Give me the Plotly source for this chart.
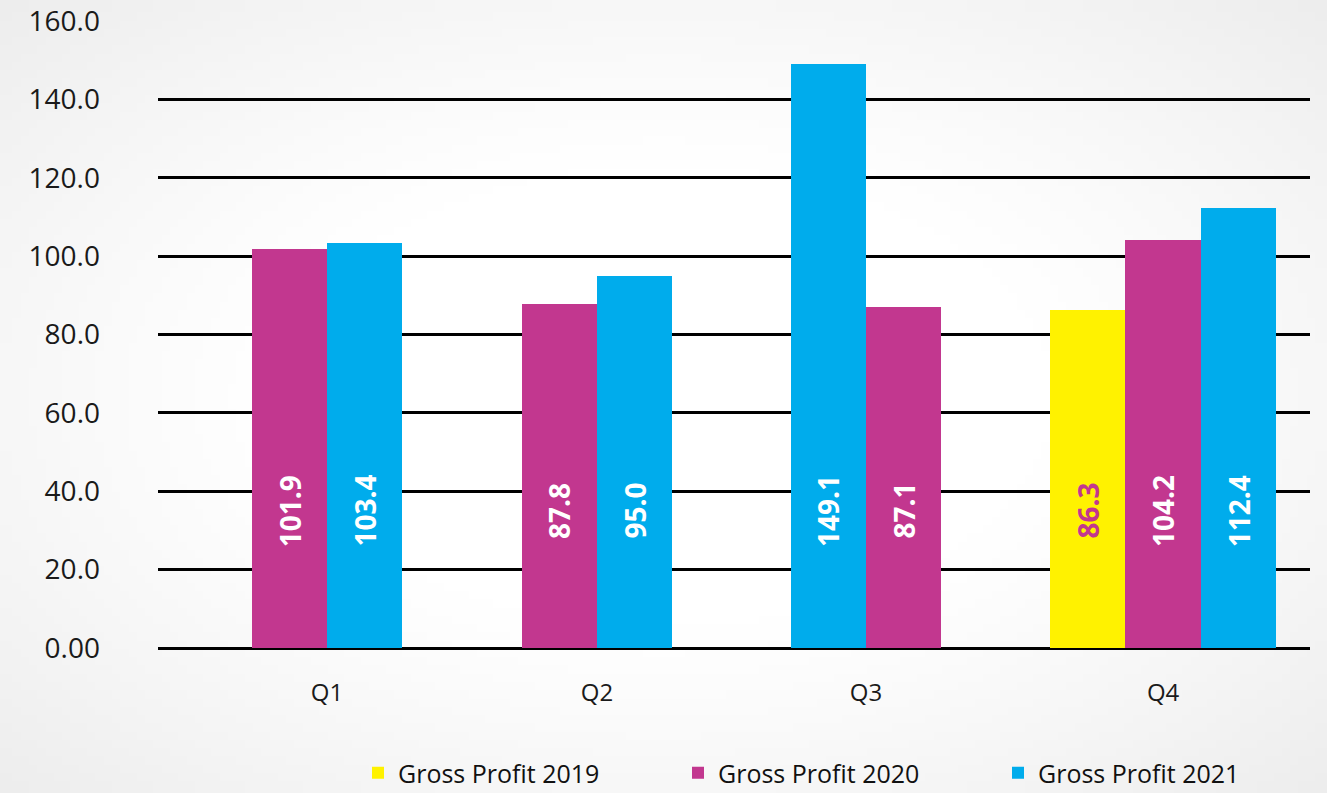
import base64
import struct
import zlib

import plotly.graph_objects as go

# ---------------- data ----------------
quarters = ["Q1", "Q2", "Q3", "Q4"]
series_names = ["Gross Profit 2019", "Gross Profit 2020", "Gross Profit 2021"]
gp_2019 = [None, None, None, 86.3]
gp_2020 = [101.9, 87.8, 87.1, 104.2]
gp_2021 = [103.4, 95.0, 149.1, 112.4]
y_tick_values = [0, 20, 40, 60, 80, 100, 120, 140, 160]
y_tick_labels = ["0.00", "20.0", "40.0", "60.0", "80.0", "100.0", "120.0", "140.0", "160.0"]

# ---------------- layout / style ----------------
series_values = [gp_2019, gp_2020, gp_2021]
colors = ["#FFF200", "#C2378F", "#00ACEC"]
label_colors = ["#C2378F", "white", "white"]
# order of series within each quarter (indexes into series_values)
bar_order = {"Q3": [2, 1]}
group_centers = [0.587, 1.524, 2.458, 3.490]   # axis units
bar_width = 0.2616
label_y = 35

W, H = 1327, 793
M_L, M_R, M_T, M_B = 158, 17, 21, 145
PW, PH = W - M_L - M_R, H - M_T - M_B

FONT = "Open Sans"


def gradient_png(w, h):
    rows = []
    for j in range(h):
        dy = (j + 0.5) / h * 2 - 1
        row = bytearray([0])
        for i in range(w):
            dx = (i + 0.5) / w * 2 - 1
            r = (dx * dx + dy * dy) ** 0.5
            t = max(0.0, min(1.0, (r - 0.55) / 0.85))
            v = int(round(255 - 18 * t ** 1.2))
            row.append(v)
        rows.append(bytes(row))
    raw = b"".join(rows)

    def chunk(tag, data):
        c = struct.pack(">I", len(data)) + tag + data
        return c + struct.pack(">I", zlib.crc32(tag + data) & 0xFFFFFFFF)

    png = b"\x89PNG\r\n\x1a\n"
    png += chunk(b"IHDR", struct.pack(">IIBBBBB", w, h, 8, 0, 0, 0, 0))
    png += chunk(b"IDAT", zlib.compress(raw, 9))
    png += chunk(b"IEND", b"")
    return "data:image/png;base64," + base64.b64encode(png).decode()


fig = go.Figure()
annotations = []

# compute bar positions per series
positions = {k: [] for k in range(len(series_values))}
for qi, q in enumerate(quarters):
    present = [s for s in range(len(series_values)) if series_values[s][qi] is not None]
    order = bar_order.get(q, present)
    n = len(order)
    for idx, s in enumerate(order):
        x = group_centers[qi] + (idx - (n - 1) / 2) * bar_width
        positions[s].append((x, series_values[s][qi]))

for s, name in enumerate(series_names):
    xs = [p[0] for p in positions[s]]
    ys = [p[1] for p in positions[s]]
    fig.add_trace(go.Bar(
        x=xs, y=ys, width=bar_width, name=name,
        marker=dict(color=colors[s], line=dict(width=0)),
        hoverinfo="y",
    ))
    for x, v in zip(xs, ys):
        annotations.append(dict(
            x=x, y=label_y, xref="x", yref="y", text=f"<b>{v:.1f}</b>",
            showarrow=False, textangle=-90,
            font=dict(family=FONT, size=28, color=label_colors[s]),
        ))

fig.update_layout(
    width=W, height=H,
    margin=dict(l=M_L, r=M_R, t=M_T, b=M_B, pad=0, autoexpand=False),
    paper_bgcolor="white",
    plot_bgcolor="rgba(0,0,0,0)",
    barmode="overlay",
    bargap=0,
    font=dict(family=FONT, color="#1a1a1a"),
    annotations=annotations,
    images=[dict(
        source=gradient_png(160, 96), xref="paper", yref="paper",
        x=-M_L / PW, y=1 + M_T / PH,
        sizex=W / PW, sizey=H / PH,
        sizing="stretch", layer="below", xanchor="left", yanchor="top",
    )],
    showlegend=True,
    legend=dict(
        orientation="h", x=(358 - M_L) / PW, xanchor="left",
        y=-(773 - (M_T + PH)) / PH, yanchor="middle",
        font=dict(family=FONT, size=25, color="#111111"),
        entrywidth=275, entrywidthmode="pixels",
        bgcolor="rgba(0,0,0,0)", traceorder="normal",
    ),
)

fig.update_xaxes(
    range=[0, 4], tickvals=group_centers, ticktext=quarters,
    showgrid=False, zeroline=False, showline=False, ticks="",
    tickfont=dict(family=FONT, size=24, color="#1a1a1a"),
    ticklabelstandoff=28, fixedrange=True, automargin=False,
)
fig.update_yaxes(
    range=[0, 160], tickvals=y_tick_values, ticktext=y_tick_labels,
    showgrid=True, gridcolor="black", gridwidth=2.5,
    zeroline=True, zerolinecolor="black", zerolinewidth=2.5,
    showline=False, ticks="",
    tickfont=dict(family=FONT, size=28, color="#1a1a1a"),
    ticklabelstandoff=57, fixedrange=True, automargin=False,
)

fig.write_html("out.html")
